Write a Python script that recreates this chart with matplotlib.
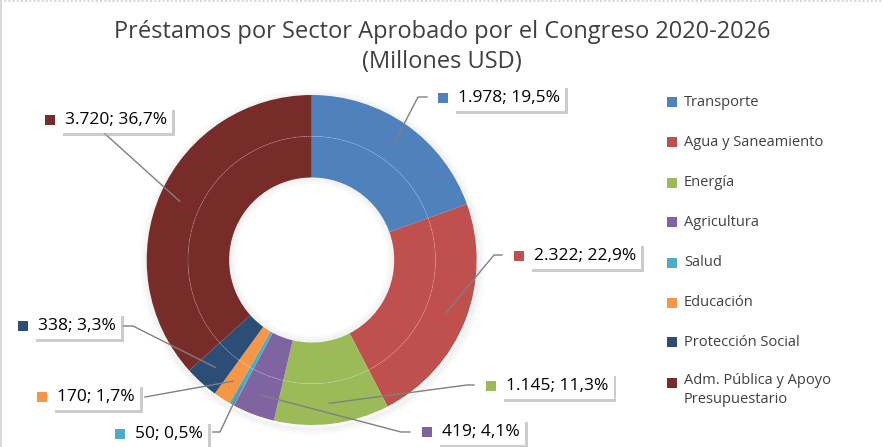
import numpy as np
import matplotlib.pyplot as plt
import matplotlib.patheffects as pe
from matplotlib.patches import Rectangle, Circle

plt.rcParams['font.family'] = ['Open Sans', 'DejaVu Sans']

# data
sectores = ["Transporte", "Agua y Saneamiento", "Energía", "Agricultura", "Salud",
            "Educación", "Protección Social", "Adm. Pública y Apoyo\nPresupuestario"]
montos = [1978, 2322, 1145, 419, 50, 170, 338, 3720]
colores = ["#4F81BD", "#C0504D", "#9BBB59", "#8064A2", "#4BACC6",
           "#F79646", "#2C4D75", "#772C2A"]

W, H = 883, 447
fig = plt.figure(figsize=(W / 100, H / 100), dpi=100)
ax = fig.add_axes([0, 0, 1, 1])

cx, cy = 311.7, H - 260
R = 165

# soft shadow around the ring
for k in range(1, 9):
    ax.add_patch(Circle((cx + 1, cy - 2), R + k, fill=False, ec="#000000", alpha=0.035 * (9 - k) / 8,
                        lw=1.2, zorder=0))

# two rings with same data (outer and inner)
w1, _ = ax.pie(montos, colors=colores, startangle=90, counterclock=False, center=(cx, cy),
               radius=R, wedgeprops=dict(width=R * 0.25, linewidth=0), frame=True)
w2, _ = ax.pie(montos, colors=colores, startangle=90, counterclock=False, center=(cx, cy),
               radius=R * 0.75, wedgeprops=dict(width=R * 0.25, linewidth=0), frame=True)
ax.add_patch(Circle((cx, cy), R * 0.75, fill=False, ec="#ffffff", lw=0.5, ls=(0, (1, 2)), alpha=0.5, zorder=3))

# inner shadow in the hole
for k in range(1, 8):
    ax.add_patch(Circle((cx, cy), R * 0.5 - k, fill=False, ec="#000000", alpha=0.035 * (8 - k) / 7,
                        lw=1.2, zorder=3))

total = sum(montos)
fracs = np.array(montos) / total
mid = np.cumsum(fracs) - fracs / 2
ang = np.deg2rad(90 - mid * 360)
ax_x = cx + 0.875 * R * np.cos(ang)
ax_y = cy + 0.875 * R * np.sin(ang)

# label layout: (square x, text y in px from top, leader points after anchor)
layout = [
    (443, 98, [(418, 97), (427, 97)]),
    (519, 256, [(494, 255), (502, 255)]),
    (491, 386, [(467, 385), (474, 385)]),
    (427, 432, [(401, 432), (410, 432)]),
    (120, 434, [(220, 432), (213, 432)]),
    (42, 397, [(145, 397)]),
    (23, 326, [(133, 326), (123, 326)]),
    (50, 120, [(103, 132)]),
]

def fmt(v):
    return f"{v:,}".replace(",", ".")

for i, (sx, sy, pts) in enumerate(layout):
    xs = [ax_x[i]] + [p[0] for p in pts]
    ys = [ax_y[i]] + [H - p[1] for p in pts]
    ax.plot(xs, ys, color="#808080", lw=1, zorder=4)
    ax.add_patch(Rectangle((sx - 5, H - sy - 5), 10, 10, color=colores[i], lw=0, zorder=6))
    pct = f"{fracs[i] * 100:.1f}".replace(".", ",")
    t = ax.text(sx + 15, H - sy, f"{fmt(montos[i])}; {pct}%", fontsize=12.5, color="#000000",
                va="center", ha="left", zorder=7,
                bbox=dict(boxstyle="square,pad=0.3", fc="white", ec="none"))
    t.get_bbox_patch().set_path_effects([pe.SimplePatchShadow(offset=(2, -2), shadow_rgbFace="#aaaaaa", alpha=0.6),
                                         pe.Normal()])

# legend
leg_y = [102, 142, 183, 222, 263, 303, 342, 383]
for i, lab in enumerate(sectores):
    ax.add_patch(Rectangle((672 - 5, H - leg_y[i] - 5), 10, 10, color=colores[i], lw=0))
    if "\n" in lab:
        ax.text(684, H - leg_y[i] + 10, lab, fontsize=10.5, color="#404040", va="top", ha="left",
                linespacing=1.4)
    else:
        ax.text(684, H - leg_y[i], lab, fontsize=10.5, color="#404040", va="center", ha="left")

ax.text(442, H - 47, "Préstamos por Sector Aprobado por el Congreso 2020-2026\n(Millones USD)",
        fontsize=17, color="#404040", ha="center", va="center", linespacing=1.3)

# border
ax.plot([1, 1], [0, H], color="#d9d9d9", lw=1.5)
ax.plot([0, W], [H - 1, H - 1], color="#d9d9d9", lw=1.5, ls=(0, (1, 1)))

ax.set_xlim(0, W)
ax.set_ylim(0, H)
ax.set_aspect("equal")
ax.axis("off")
fig.savefig("out.png", dpi=100)
